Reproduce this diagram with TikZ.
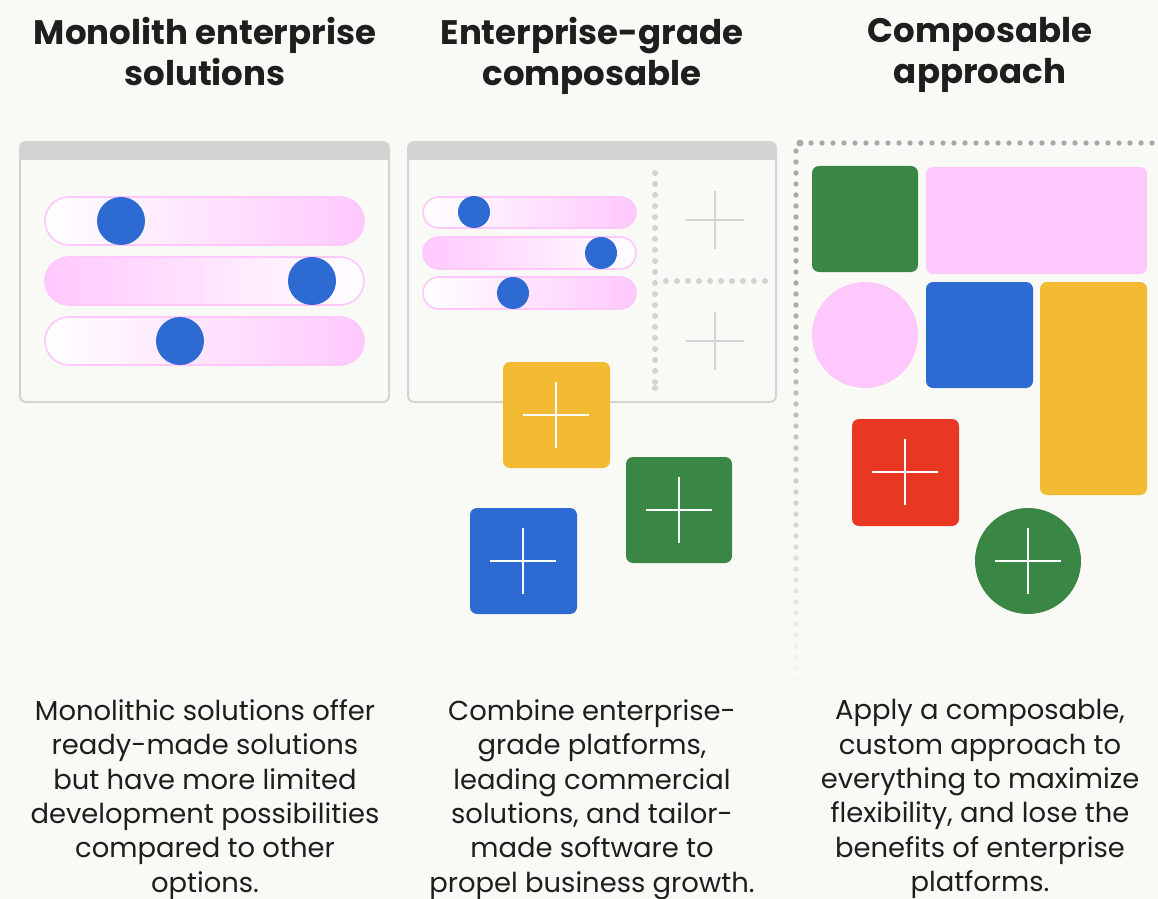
\documentclass[tikz,border=0pt]{standalone}
\usepackage{fontspec}
\setmainfont{Poppins}
\definecolor{paper}{HTML}{F9FAF5}
\definecolor{ink}{HTML}{1E1E1E}
\definecolor{frame}{HTML}{D3D3D3}
\definecolor{dotgray}{HTML}{A9A9A9}
\definecolor{pinkfill}{HTML}{FFC8FD}
\definecolor{knobblue}{HTML}{2D6BD3}
\definecolor{leaf}{HTML}{3A8745}
\definecolor{sun}{HTML}{F2BB33}
\definecolor{brick}{HTML}{E83722}

% white cross centred at (#1,#2), arm length #3
\newcommand{\cross}[4][white]{%
  \draw[#1, line width=1pt] (#2-#4,#3) -- (#2+#4,#3) (#2,#3-#4) -- (#2,#3+#4);}

\begin{document}
\begin{tikzpicture}[x=0.5pt, y=-0.5pt,
  heading/.style={anchor=north, inner sep=0pt, align=center, text=ink,
    font=\fontsize{17}{20.5}\selectfont\bfseries},
  body/.style={anchor=north, inner sep=0pt, align=center, text=ink,
    font=\fontsize{13.7}{17.2}\selectfont},
  window/.style={draw=frame, line width=1pt, rounded corners=3pt},
  knob/.style={fill=knobblue},
  tile/.style={rounded corners=3.5pt}]

\fill[paper] (0,0) rectangle (1158,899);
\useasboundingbox (0,0) rectangle (1158,899);

% headings
\node[heading] (head1) at (205,17) {Monolith enterprise\\solutions};
\node[heading] (head2) at (592,17) {Enterprise-grade\\composable};
\node[heading] (head3) at (980,17) {Composable\\approach};

% left window with three sliders
\begin{scope}
  \clip[rounded corners=3pt] (20,142) rectangle (389,402);
  \fill[frame] (20,142) rectangle (389,160);
\end{scope}
\draw[window] (20,142) rectangle (389,402);
\path[draw=pinkfill, line width=0.8pt, left color=white, right color=pinkfill, rounded corners=12pt] (45,197) rectangle (364,245);
\path[draw=pinkfill, line width=0.8pt, left color=pinkfill, right color=white, rounded corners=12pt] (45,257) rectangle (364,305);
\path[draw=pinkfill, line width=0.8pt, left color=white, right color=pinkfill, rounded corners=12pt] (45,317) rectangle (364,365);
\fill[knob] (121,221) circle (24);
\fill[knob] (312,281) circle (24);
\fill[knob] (180,341) circle (24);

% middle window: smaller sliders and empty slots
\begin{scope}
  \clip[rounded corners=3pt] (408,142) rectangle (776,402);
  \fill[frame] (408,142) rectangle (776,160);
\end{scope}
\draw[window] (408,142) rectangle (776,402);
\path[draw=pinkfill, line width=0.8pt, left color=white, right color=pinkfill, rounded corners=8pt] (423,197) rectangle (636,228);
\path[draw=pinkfill, line width=0.8pt, left color=pinkfill, right color=white, rounded corners=8pt] (423,237) rectangle (636,269);
\path[draw=pinkfill, line width=0.8pt, left color=white, right color=pinkfill, rounded corners=8pt] (423,277) rectangle (636,309);
\fill[knob] (474,212) circle (16);
\fill[knob] (601,253) circle (16);
\fill[knob] (513,293) circle (16);
\foreach \y in {173,184,...,388}
  \fill[frame] (655,\y) circle (3);
\fill[frame] (655,388) circle (3);
\foreach \x in {666,677,...,767}
  \fill[frame] (\x,281) circle (3);
\cross[frame, line width=1.2pt]{715}{220}{29}
\cross[frame, line width=1.2pt]{715}{341}{29}

% add-on tiles
\fill[tile, sun] (503,362) rectangle (610,468);
\cross{556}{415}{33}
\fill[tile, leaf] (626,457) rectangle (732,563);
\cross{679}{510}{33}
\fill[tile, knobblue] (470,508) rectangle (577,614);
\cross{523}{561}{33}

% right column: dotted frame fading downwards
\fill[dotgray] (800,143) circle (3.5);
\foreach \x in {811,822,...,1158}
  \fill[dotgray] (\x,143) circle (2.7);
\foreach \y in {151,162,...,690} {
  \pgfmathtruncatemacro\fade{min(100,max(0,(700-\y)/4))}
  \fill[dotgray!\fade!paper] (796,\y) circle (2.7);
}

\fill[tile, leaf] (812,166) rectangle (918,272);
\fill[tile, pinkfill] (926,167) rectangle (1147,274);
\fill[pinkfill] (865,335) circle (53);
\fill[tile, knobblue] (926,282) rectangle (1033,388);
\fill[tile, sun] (1040,282) rectangle (1147,495);
\fill[tile, brick] (852,419) rectangle (959,526);
\cross{905}{472}{33}
\fill[leaf] (1028,561) circle (53);
\cross{1028}{561}{33}

% descriptions
\node[body] (text1) at (205,699) {Monolithic solutions offer\\ready-made solutions\\but have more limited\\development possibilities\\compared to other\\options.};
\node[body] (text2) at (592,699) {Combine enterprise-\\grade platforms,\\leading commercial\\solutions, and tailor-\\made software to\\propel business growth.};
\node[body] (text3) at (980,699) {Apply a composable,\\custom approach to\\everything to maximize\\flexibility, and lose the\\benefits of enterprise\\platforms.};
\end{tikzpicture}
\end{document}
